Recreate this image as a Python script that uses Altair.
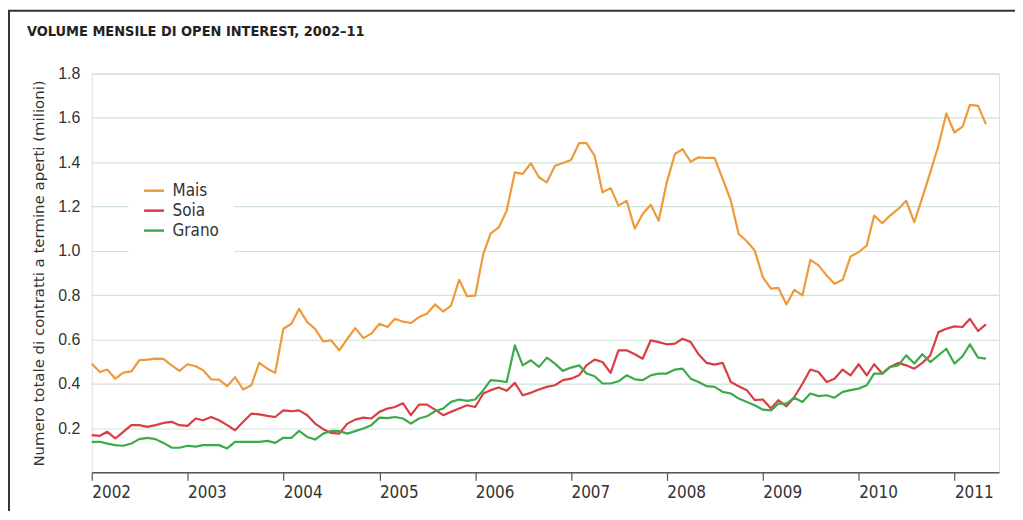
import altair as alt
import pandas as pd

# ---- data (monthly, Jan 2002 - May 2011), millions of open contracts ----
mais = [
    0.49, 0.453, 0.464, 0.423, 0.45, 0.456, 0.506, 0.509, 0.513, 0.512,
    0.483, 0.458, 0.488, 0.479, 0.461, 0.42, 0.419, 0.389, 0.43, 0.374,
    0.393, 0.494, 0.468, 0.449, 0.648, 0.671, 0.738, 0.678, 0.648, 0.591,
    0.596, 0.551, 0.603, 0.651, 0.606, 0.626, 0.671, 0.656, 0.693, 0.68,
    0.674, 0.701, 0.716, 0.758, 0.726, 0.753, 0.869, 0.795, 0.798, 0.986,
    1.079, 1.106, 1.181, 1.354, 1.347, 1.395, 1.332, 1.309, 1.384, 1.396,
    1.41, 1.486, 1.486, 1.429, 1.264, 1.283, 1.204, 1.226, 1.10, 1.166,
    1.208, 1.136, 1.309, 1.437, 1.459, 1.402, 1.422, 1.419,
    1.419, 1.324, 1.226, 1.076, 1.043, 1.001, 0.881, 0.829, 0.833, 0.758,
    0.824, 0.799, 0.959, 0.934, 0.889, 0.851, 0.869, 0.974, 0.994, 1.024,
    1.159, 1.124, 1.159, 1.189, 1.226, 1.129, 1.241, 1.354, 1.474, 1.62,
    1.534, 1.56, 1.659, 1.654, 1.572,
]
soia = [
    0.168, 0.165, 0.183, 0.153, 0.183, 0.213, 0.213, 0.205, 0.213, 0.223,
    0.228, 0.213, 0.21, 0.243, 0.235, 0.25, 0.235, 0.213, 0.19, 0.228,
    0.265, 0.262, 0.255, 0.25, 0.28, 0.276, 0.28, 0.258, 0.22, 0.195,
    0.178, 0.175, 0.22, 0.238, 0.247, 0.243, 0.273, 0.288, 0.295, 0.312,
    0.258, 0.306, 0.306, 0.283, 0.258, 0.273, 0.288, 0.303, 0.295, 0.356,
    0.371, 0.383, 0.368, 0.404, 0.348, 0.359, 0.374, 0.386, 0.393, 0.416,
    0.423, 0.438, 0.483, 0.509, 0.498, 0.449, 0.551, 0.551, 0.533, 0.513,
    0.596, 0.588, 0.578, 0.581, 0.603, 0.588, 0.533, 0.494,
    0.486, 0.494, 0.408, 0.389, 0.371, 0.326, 0.329, 0.288, 0.326, 0.298,
    0.34, 0.40, 0.464, 0.453, 0.408, 0.423, 0.464, 0.438, 0.488, 0.438,
    0.488, 0.446, 0.476, 0.494, 0.483, 0.468, 0.494, 0.528, 0.633, 0.648,
    0.659, 0.656, 0.693, 0.638, 0.668,
]
grano = [
    0.138, 0.138, 0.13, 0.123, 0.12, 0.13, 0.15, 0.156, 0.15, 0.133,
    0.112, 0.111, 0.12, 0.116, 0.123, 0.123, 0.123, 0.108, 0.138, 0.138,
    0.138, 0.138, 0.142, 0.133, 0.156, 0.156, 0.187, 0.16, 0.148, 0.175,
    0.187, 0.186, 0.175, 0.186, 0.198, 0.213, 0.247, 0.245, 0.25, 0.243,
    0.22, 0.243, 0.253, 0.276, 0.288, 0.318, 0.329, 0.323, 0.329, 0.371,
    0.416, 0.413, 0.408, 0.573, 0.483, 0.506, 0.476, 0.518, 0.491, 0.458,
    0.473, 0.483, 0.446, 0.434, 0.401, 0.401, 0.411, 0.438, 0.42, 0.416,
    0.438, 0.446, 0.446, 0.464, 0.468, 0.423, 0.408, 0.389,
    0.386, 0.363, 0.356, 0.333, 0.318, 0.303, 0.283, 0.28, 0.31, 0.31,
    0.337, 0.318, 0.356, 0.344, 0.348, 0.337, 0.363, 0.371, 0.378, 0.393,
    0.446, 0.446, 0.476, 0.483, 0.528, 0.491, 0.533, 0.498, 0.528, 0.558,
    0.491, 0.524, 0.578, 0.518, 0.513,
]
series_names = ["Mais", "Soia", "Grano"]
series_colors = ["#EE9A3C", "#DA3D43", "#3DAA4A"]
years = list(range(2002, 2012))
y_ticks = [0.2, 0.4, 0.6, 0.8, 1.0, 1.2, 1.4, 1.6, 1.8]
title_text = "VOLUME MENSILE DI OPEN INTEREST, 2002–11"

dates = pd.date_range("2002-01-01", periods=len(mais), freq="MS")
df = pd.concat(
    [
        pd.DataFrame({"data": dates, "valore": vals, "serie": name})
        for name, vals in zip(series_names, [mais, soia, grano])
    ],
    ignore_index=True,
)

TXT = "#333333"
NARROW = "DejaVu Sans Condensed, Roboto, Liberation Sans, sans-serif"

lines = (
    alt.Chart(df)
    .mark_line(strokeWidth=2.2, strokeJoin="round")
    .encode(
        x=alt.X(
            "data:T",
            scale=alt.Scale(domain=[alt.DateTime(year=2002, month=1, date=1),
                                    alt.DateTime(year=2011, month=6, date=20)]),
            axis=alt.Axis(
                values=[alt.DateTime(year=y, month=1, date=1) for y in years],
                format="%Y",
                title=None,
                grid=False,
                domainColor="#555555",
                domainWidth=1.5,
                tickColor="#555555",
                tickSize=8,
                tickWidth=1.2,
                labelAlign="left",
                labelBaseline="top",
                labelFont=NARROW,
                labelFontSize=17,
                labelColor=TXT,
                labelPadding=4,
                labelFlush=False,
                labelOverlap=False,
            ),
        ),
        y=alt.Y(
            "valore:Q",
            scale=alt.Scale(domain=[0, 1.8], nice=False),
            axis=alt.Axis(
                values=y_ticks,
                format=".1f",
                title="Numero totale di contratti a termine aperti (milioni)",
                titleFont="DejaVu Sans",
                titleFontSize=15,
                titleFontWeight="normal",
                titleColor=TXT,
                titlePadding=11,
                grid=True,
                gridColor="#CFE3D7",
                gridWidth=1.2,
                domain=False,
                ticks=False,
                labelFont="Liberation Sans",
                labelFontSize=16,
                labelColor=TXT,
                labelPadding=12,
            ),
        ),
        color=alt.Color(
            "serie:N",
            scale=alt.Scale(domain=series_names, range=series_colors),
            sort=series_names,
            legend=alt.Legend(
                orient="none",
                legendX=37,
                legendY=92,
                title=None,
                symbolType="stroke",
                symbolSize=400,
                symbolStrokeWidth=2.5,
                labelFont=NARROW,
                labelFontSize=17,
                labelColor=TXT,
                labelOffset=7,
                rowPadding=0,
                padding=14,
                fillColor="white",
                strokeColor="white",
            ),
        ),
    )
)

frame_src = pd.DataFrame({"titolo": [title_text]})
left_border = alt.Chart(frame_src).mark_rule(color="#333333", strokeWidth=2).encode(
    x=alt.value(-83), y=alt.value(-63), y2=alt.value(520)
)
top_border = alt.Chart(frame_src).mark_rule(color="#333333", strokeWidth=2).encode(
    x=alt.value(-84), x2=alt.value(1000), y=alt.value(-63)
)
title_mark = alt.Chart(frame_src).mark_text(
    align="left",
    baseline="alphabetic",
    font=NARROW,
    fontSize=14.5,
    fontWeight="bold",
    color="#222222",
).encode(x=alt.value(-65), y=alt.value(-38), text="titolo:N")

chart = (
    alt.layer(left_border, top_border, title_mark, lines)
    .properties(
        width=910,
        height=400,
        autosize=alt.AutoSizeParams(type="none"),
        padding={"left": 84, "top": 65, "right": 16, "bottom": 38},
    )
    .configure_view(stroke=None)
    .configure(background="white")
)

chart.save("out.html", embed_options={"renderer": "svg", "actions": False})
